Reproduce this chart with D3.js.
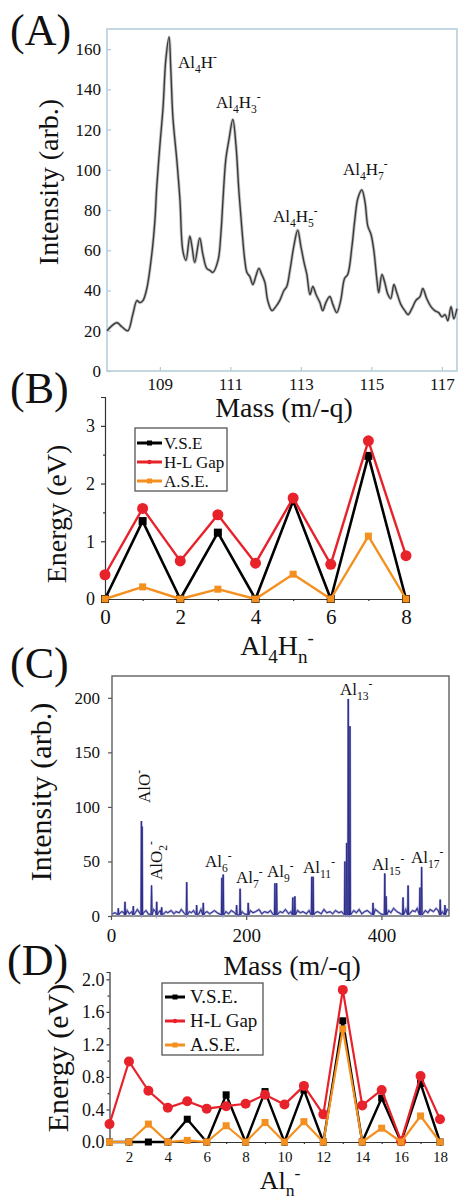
<!DOCTYPE html>
<html>
<head>
<meta charset="utf-8">
<script src="https://cdn.jsdelivr.net/npm/d3@7"></script>
<style>
body { margin: 0; background: #fff; }
text { font-family: "Liberation Serif", "Times New Roman", serif; }
</style>
</head>
<body>
<svg id="fig" width="459" height="1199"></svg>
<script>
// ---- data: panel A (Al4Hn- mass spectrum) ----
var aMass = [107.50,107.78,107.92,108.09,108.23,108.35,108.43,108.52,108.63,108.77,108.86,108.91,109.00,109.09,109.17,109.26,109.31,109.37,109.48,109.57,109.65,109.74,109.85,109.91,109.99,110.13,110.22,110.33,110.42,110.50,110.65,110.73,110.79,110.87,110.96,111.07,111.16,111.24,111.33,111.41,111.47,111.55,111.64,111.72,111.81,111.89,111.98,112.06,112.18,112.29,112.40,112.52,112.60,112.69,112.80,112.91,113.00,113.09,113.17,113.26,113.34,113.43,113.54,113.62,113.71,113.82,113.91,114.02,114.13,114.24,114.33,114.45,114.53,114.62,114.73,114.82,114.90,114.99,115.07,115.16,115.21,115.30,115.38,115.47,115.55,115.64,115.72,115.84,115.95,116.04,116.15,116.26,116.38,116.46,116.57,116.69,116.80,116.91,117.00,117.09,117.17,117.26,117.34,117.43];
var aInt  = [20,24,22,20,28,35,34,35,41,58,75,91,112,131,155,166,150,126,105,85,60,55,67,62,54,66,58,51,50,49,55,68,85,105,115,125,112,90,70,55,49,47,43,47,51,48,44,35,30,32,35,40,42,50,62,70,62,54,48,38,42,38,34,30,34,37,33,29,35,46,48,62,75,86,90,84,72,68,60,45,39,48,44,38,36,43,39,33,30,28,31,35,37,41,36,32,30,29,27,28,25,32,26,31];
var aTicksX = [109, 111, 113, 115, 117];
var aTicksY = [0, 20, 40, 60, 80, 100, 120, 140, 160];

// ---- data: panel B (Al4Hn- energies) ----
var bN   = [0, 1, 2, 3, 4, 5, 6, 7, 8];
var bVSE = [0, 1.35, 0, 1.15, 0, 1.70, 0, 2.48, 0];
var bGap = [0.42, 1.57, 0.66, 1.46, 0.62, 1.75, 0.60, 2.74, 0.75];
var bASE = [0, 0.21, 0, 0.17, 0, 0.43, 0, 1.09, 0];

// ---- data: panel C (Aln- mass spectrum) ----
var cBaseMass = [2,6,12,16,19,24,27,31,36,39,48,52,55,63,66,70,73,78,81,84,89,93,96,101,104,109,116,119,122,130,133,139,142,146,153,157,170,174,178,183,194,197,206,210,214,219,223,227,232,236,239,250,254,258,263,266,276,280,284,289,293,302,306,311,315,319,324,328,332,337,341,359,363,367,371,375,379,383,391,395,399,411,414,418,423,426,436,446,450,453,465,469,472,477,481,484,490,497,500];
var cBaseInt  = [2,3,2,4,3,5,2,4,3,6,3,5,2,6,4,3,5,2,4,3,5,2,4,3,6,2,4,3,5,2,6,3,4,2,5,3,4,2,5,3,4,2,5,3,4,6,2,4,3,5,2,4,3,6,2,4,5,3,4,2,5,3,4,2,6,3,4,2,5,3,4,5,3,6,2,4,5,3,6,4,2,5,3,7,4,3,6,5,4,7,5,3,6,4,7,5,4,6,5];
var cPeakMass = [10.8,20.7,33,45,46,60,67.6,75,112,126.7,136.5,164,166,185.8,191,203,242.5,245,269,272,297,299,346,348.6,351,353.5,387.6,405,407,432,439.5,457,459.5,487,494];
var cPeakInt  = [7,13,9,87,82,28,13,8,31,10,12,35,38,10,25,12,30,30,17,18,36,36,50,67,199,174,12,39,18,17,28,26,45,15,10];
var cTicksX = [0, 200, 400];
var cTicksY = [0, 50, 100, 150, 200];

// ---- data: panel D (Aln- energies) ----
var dN   = [1,2,3,4,5,6,7,8,9,10,11,12,13,14,15,16,17,18];
var dVSE = [0,0,0,0,0.28,0,0.58,0,0.62,0,0.64,0,1.49,0,0.54,0,0.72,0];
var dGap = [0.22,0.99,0.63,0.42,0.50,0.41,0.44,0.47,0.58,0.46,0.69,0.34,1.87,0.45,0.64,0.01,0.81,0.28];
var dASE = [0,0,0.22,0,0.02,0,0.20,0,0.24,0,0.25,0,1.39,0,0.17,0,0.32,0];

var RED = "#e8222b", ORANGE = "#f4901f", BLACK = "#000";

var svg = d3.select("#fig");

// text with sub / superscripts, parts = [[string, ""|"sub"|"sup"], ...]
function chem(g, x, y, parts, size, anchor) {
  var t = g.append("text").attr("x", x).attr("y", y)
    .attr("font-size", size).attr("text-anchor", anchor || "start").attr("fill", "#111");
  var shift = 0;
  parts.forEach(function(p) {
    var s = p[1] == "sub" ? 0.28 * size : p[1] == "sup" ? -0.4 * size : 0;
    t.append("tspan").attr("dy", s - shift)
      .attr("font-size", p[1] ? size * 0.68 : size).text(p[0]);
    shift = s;
  });
  return t;
}

function styleAxis(g, color, size) {
  g.selectAll("path, line").attr("stroke", color).attr("stroke-width", 1.2);
  g.selectAll("text").attr("font-size", size).attr("fill", "#111");
}

function rotLabel(x, y, str, size) {
  svg.append("text").attr("transform", "translate(" + x + "," + y + ") rotate(-90)")
    .attr("text-anchor", "middle").attr("font-size", size).attr("fill", "#111").text(str);
}

function panelTag(x, y, str) {
  svg.append("text").attr("x", x).attr("y", y).attr("font-size", 44).attr("fill", "#111").text(str);
}

// ================= Panel A =================
var xA = d3.scaleLinear().domain([107.5, 117.43]).range([107, 457]);
var yA = d3.scaleLinear().domain([0, 170]).range([371, 29]);

svg.append("rect").attr("x", 107).attr("y", 29).attr("width", 350).attr("height", 342)
  .attr("fill", "none").attr("stroke", "#b3cad9").attr("stroke-width", 1.5);

var gAy = svg.append("g").attr("transform", "translate(107,0)")
  .call(d3.axisLeft(yA).tickValues(aTicksY).tickSize(-4).tickPadding(6));
gAy.select(".domain").remove();
styleAxis(gAy, "#b3cad9", 17);

var gAx = svg.append("g").attr("transform", "translate(0,371)")
  .call(d3.axisBottom(xA).tickValues(aTicksX).tickSize(-4).tickPadding(7));
gAx.select(".domain").remove();
styleAxis(gAx, "#b3cad9", 17);

var aLine = d3.line().x(function(d, i) { return xA(aMass[i]); })
  .y(function(d) { return yA(d); }).curve(d3.curveCatmullRom.alpha(0.5));
svg.append("path").datum(aInt).attr("d", aLine).attr("fill", "none")
  .attr("stroke", "#c4c4c4").attr("stroke-width", 3.2);
svg.append("path").datum(aInt).attr("d", aLine).attr("fill", "none")
  .attr("stroke", "#3a3a3a").attr("stroke-width", 1.4);

chem(svg, 178, 68, [["Al",""],["4","sub"],["H",""],["-","sup"]], 17);
chem(svg, 216, 108, [["Al",""],["4","sub"],["H",""],["3","sub"],["-","sup"]], 17);
chem(svg, 273, 222, [["Al",""],["4","sub"],["H",""],["5","sub"],["-","sup"]], 17);
chem(svg, 343, 175, [["Al",""],["4","sub"],["H",""],["7","sub"],["-","sup"]], 17);

panelTag(10, 45, "(A)");
rotLabel(58, 182, "Intensity (arb.)", 28);
svg.append("text").attr("x", 284).attr("y", 417).attr("text-anchor", "middle")
  .attr("font-size", 28).attr("fill", "#111").text("Mass (m/-q)");

// ================= energy panels (B, D) =================
function drawSeries(g, xs, ys, xv, yv, color, marker, size, width) {
  var line = d3.line().x(function(d, i) { return xs(xv[i]); }).y(function(d) { return ys(d); });
  g.append("path").datum(yv).attr("d", line).attr("fill", "none")
    .attr("stroke", color).attr("stroke-width", width).attr("stroke-linejoin", "round");
  if (marker == "circle") {
    g.selectAll(null).data(yv).enter().append("circle")
      .attr("cx", function(d, i) { return xs(xv[i]); }).attr("cy", function(d) { return ys(d); })
      .attr("r", size / 2).attr("fill", color);
  } else {
    g.selectAll(null).data(yv).enter().append("rect")
      .attr("x", function(d, i) { return xs(xv[i]) - size / 2; })
      .attr("y", function(d) { return ys(d) - size / 2; })
      .attr("width", size).attr("height", size).attr("fill", color);
  }
}

function legend(x, y, w, h, rows, lineX0, lineX1, textX, size) {
  svg.append("rect").attr("x", x).attr("y", y).attr("width", w).attr("height", h)
    .attr("fill", "#fff").attr("stroke", "#555").attr("stroke-width", 1.3);
  rows.forEach(function(r) {
    svg.append("line").attr("x1", lineX0).attr("x2", lineX1).attr("y1", r.y).attr("y2", r.y)
      .attr("stroke", r.color).attr("stroke-width", 3);
    var mx = (lineX0 + lineX1) / 2;
    if (r.marker == "circle") {
      svg.append("circle").attr("cx", mx).attr("cy", r.y).attr("r", 2.2).attr("fill", r.color);
    } else {
      svg.append("rect").attr("x", mx - 2.5).attr("y", r.y - 2.5).attr("width", 5).attr("height", 5).attr("fill", r.color);
    }
    svg.append("text").attr("x", textX).attr("y", r.y + size * 0.33).attr("font-size", size)
      .attr("fill", "#111").text(r.label);
  });
}

// ================= Panel B =================
var xB = d3.scaleLinear().domain([0, 8]).range([105, 406]);
var yB = d3.scaleLinear().domain([0, 3.5]).range([599, 397]);

var gBy = svg.append("g").attr("transform", "translate(105,0)")
  .call(d3.axisLeft(yB).tickValues([0, 1, 2, 3]).tickSizeOuter(0).tickSize(4).tickPadding(6).tickFormat(d3.format("d")));
styleAxis(gBy, "#333", 18);
var gBym = svg.append("g").attr("transform", "translate(105,0)")
  .call(d3.axisLeft(yB).tickValues([0.5, 1.5, 2.5]).tickSize(2).tickFormat(""));
gBym.select(".domain").remove();
styleAxis(gBym, "#333", 10);

var gBx = svg.append("g").attr("transform", "translate(0,599)")
  .call(d3.axisBottom(xB).tickValues([0, 2, 4, 6, 8]).tickSizeOuter(0).tickSize(4).tickPadding(6).tickFormat(d3.format("d")));
styleAxis(gBx, "#333", 21);
var gBxm = svg.append("g").attr("transform", "translate(0,599)")
  .call(d3.axisBottom(xB).tickValues([1, 3, 5, 7]).tickSize(2).tickFormat(""));
gBxm.select(".domain").remove();
styleAxis(gBxm, "#333", 10);

var gB = svg.append("g");
drawSeries(gB, xB, yB, bN, bVSE, BLACK, "square", 8, 2.6);
drawSeries(gB, xB, yB, bN, bGap, RED, "circle", 11, 2.4);
drawSeries(gB, xB, yB, bN, bASE, ORANGE, "square", 7, 2.4);

legend(135, 428, 92, 63, [
  {y: 443, color: BLACK, marker: "square", label: "V.S.E"},
  {y: 462, color: RED, marker: "circle", label: "H-L Gap"},
  {y: 481, color: ORANGE, marker: "square", label: "A.S.E."}
], 137, 162, 164, 17);

panelTag(10, 403, "(B)");
rotLabel(66, 514, "Energy (eV)", 28);
chem(svg, 277, 655, [["Al",""],["4","sub"],["H",""],["n","sub"],["-","sup"]], 28, "middle");

// ================= Panel C =================
var xC = d3.scaleLinear().domain([0, 500]).range([111, 449]);
var yC = d3.scaleLinear().domain([0, 220]).range([916, 676]);

svg.append("rect").attr("x", 112).attr("y", 676).attr("width", 337).attr("height", 240)
  .attr("fill", "none").attr("stroke", "#6a6a6a").attr("stroke-width", 1.5);

var gCy = svg.append("g").attr("transform", "translate(112,0)")
  .call(d3.axisLeft(yC).tickValues(cTicksY).tickSize(4).tickPadding(8));
gCy.select(".domain").remove();
styleAxis(gCy, "#555", 17);
var gCx = svg.append("g").attr("transform", "translate(0,916)")
  .call(d3.axisBottom(xC).tickValues(cTicksX).tickSize(4).tickPadding(9));
gCx.select(".domain").remove();
styleAxis(gCx, "#555", 19);

// baseline noise plus narrow spikes, merged in mass order
var cPts = cBaseMass.map(function(m, i) { return [m, cBaseInt[i]]; });
cPeakMass.forEach(function(m, i) {
  cPts.push([m - 0.7, 1], [m, cPeakInt[i]], [m + 0.7, 1]);
});
cPts.sort(function(a, b) { return a[0] - b[0]; });
var cLine = d3.line().x(function(d) { return xC(d[0]); }).y(function(d) { return yC(d[1]); });
svg.append("path").datum(cPts).attr("d", cLine).attr("fill", "none")
  .attr("stroke", "#9a9ad0").attr("stroke-width", 2.2);
svg.append("path").datum(cPts).attr("d", cLine).attr("fill", "none")
  .attr("stroke", "#2e2e8a").attr("stroke-width", 1);

chem(svg, 340, 695, [["Al",""],["13","sub"],["-","sup"]], 17);
chem(svg, 205, 867, [["Al",""],["6","sub"],["-","sup"]], 17);
chem(svg, 236, 883, [["Al",""],["7","sub"],["-","sup"]], 17);
chem(svg, 267, 877, [["Al",""],["9","sub"],["-","sup"]], 17);
chem(svg, 303, 873, [["Al",""],["11","sub"],["-","sup"]], 17);
chem(svg, 372, 870, [["Al",""],["15","sub"],["-","sup"]], 17);
chem(svg, 411, 863, [["Al",""],["17","sub"],["-","sup"]], 17);
chem(svg.append("g").attr("transform", "translate(150,803) rotate(-90)"), 0, 0,
  [["AlO",""],["-","sup"]], 17);
chem(svg.append("g").attr("transform", "translate(162,880) rotate(-90)"), 0, 0,
  [["AlO",""],["2","sub"],["-","sup"]], 17);

panelTag(10, 678, "(C)");
rotLabel(51, 792, "Intensity (arb.)", 30);
svg.append("text").attr("x", 292).attr("y", 975).attr("text-anchor", "middle")
  .attr("font-size", 28).attr("fill", "#111").text("Mass (m/-q)");

// ================= Panel D =================
var xD = d3.scaleLinear().domain([1, 18]).range([109.5, 440]);
var yD = d3.scaleLinear().domain([0, 2.09]).range([1142, 972]);

var gDy = svg.append("g").attr("transform", "translate(109.5,0)")
  .call(d3.axisLeft(yD).tickValues([0, 0.4, 0.8, 1.2, 1.6, 2.0]).tickSizeOuter(0).tickSize(3).tickPadding(2).tickFormat(d3.format(".1f")));
styleAxis(gDy, "#333", 18);
var gDym = svg.append("g").attr("transform", "translate(109.5,0)")
  .call(d3.axisLeft(yD).tickValues([0.2, 0.6, 1.0, 1.4, 1.8]).tickSize(2).tickFormat(""));
gDym.select(".domain").remove();
styleAxis(gDym, "#333", 10);

var gDx = svg.append("g").attr("transform", "translate(0,1142)")
  .call(d3.axisBottom(xD).tickValues([2, 4, 6, 8, 10, 12, 14, 16, 18]).tickSizeOuter(0).tickSize(4).tickPadding(5).tickFormat(d3.format("d")));
styleAxis(gDx, "#333", 15);
var gDxm = svg.append("g").attr("transform", "translate(0,1142)")
  .call(d3.axisBottom(xD).tickValues([1, 3, 5, 7, 9, 11, 13, 15, 17]).tickSize(2).tickFormat(""));
gDxm.select(".domain").remove();
styleAxis(gDxm, "#333", 10);

var gD = svg.append("g");
drawSeries(gD, xD, yD, dN, dVSE, BLACK, "square", 7, 2.4);
drawSeries(gD, xD, yD, dN, dGap, RED, "circle", 10, 2.2);
drawSeries(gD, xD, yD, dN, dASE, ORANGE, "square", 7, 2.2);

legend(162, 983, 101, 72, [
  {y: 997, color: BLACK, marker: "square", label: "V.S.E."},
  {y: 1021, color: RED, marker: "circle", label: "H-L Gap"},
  {y: 1045, color: ORANGE, marker: "square", label: "A.S.E."}
], 165, 185, 190, 19);

panelTag(7, 975, "(D)");
rotLabel(68, 1058, "Energy (eV)", 30);
chem(svg, 280, 1189, [["Al",""],["n","sub"],["-","sup"]], 26, "middle");
</script>
</body>
</html>
